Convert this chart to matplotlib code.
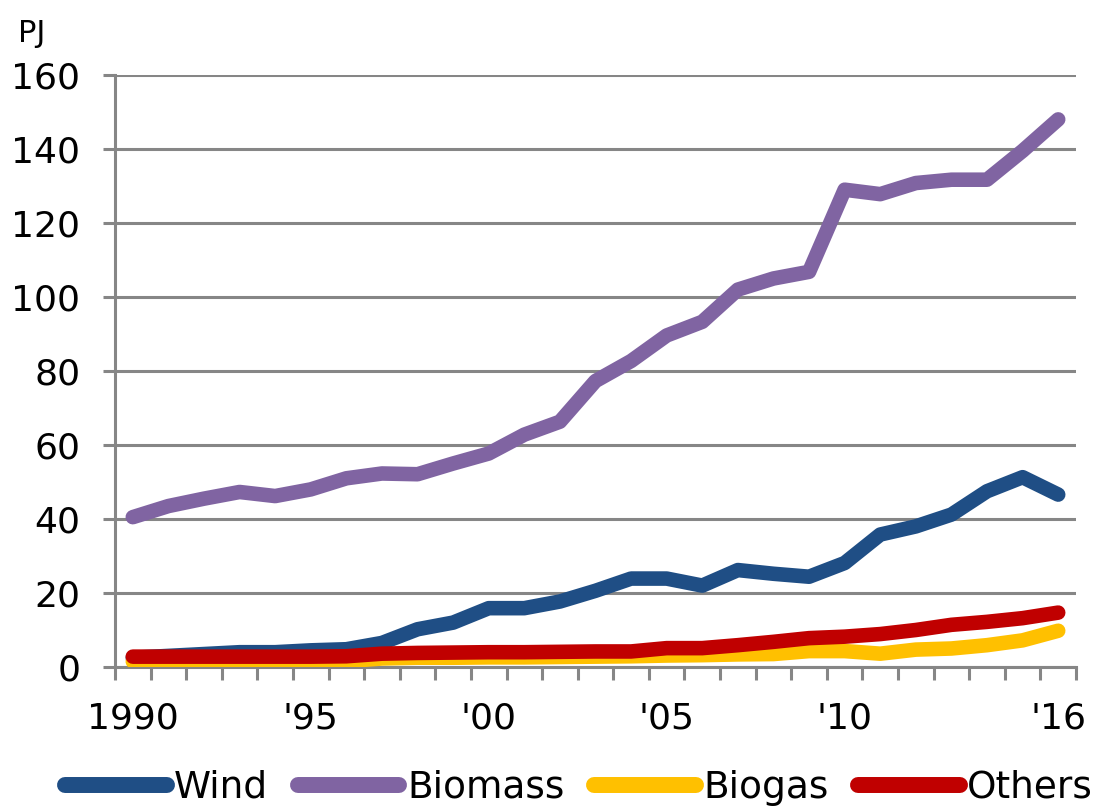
import matplotlib
matplotlib.use("Agg")
import matplotlib.pyplot as plt
import numpy as np

years = list(range(1990, 2017))
tick_labels = {1990: "1990", 1995: "'95", 2000: "'00", 2005: "'05", 2010: "'10", 2016: "'16"}

wind = [2.5, 3.0, 3.5, 4.0, 4.0, 4.5, 4.8, 6.5, 10.2, 12.0, 15.9, 15.9, 17.7, 20.6, 23.9,
        23.9, 22.0, 26.2, 25.2, 24.4, 28.1, 35.8, 38.0, 41.2, 47.5, 51.3, 46.6]
biomass = [40.5, 43.5, 45.5, 47.3, 46.2, 48.0, 51.0, 52.3, 52.1, 55.0, 57.7, 62.8, 66.3, 77.3,
           82.7, 89.6, 93.3, 102.0, 105.0, 106.8, 129.0, 127.8, 130.8, 131.7, 131.7, 139.5, 148.0]
biogas = [1.5, 1.5, 1.5, 1.5, 1.5, 1.5, 1.6, 2.3, 2.5, 2.5, 2.6, 2.6, 2.7, 2.8, 2.9,
          3.1, 3.2, 3.4, 3.5, 4.3, 4.3, 3.6, 4.7, 5.0, 5.9, 7.2, 9.8]
others = [2.8, 2.8, 2.8, 2.8, 2.8, 2.8, 2.9, 3.6, 3.8, 3.9, 4.0, 4.0, 4.1, 4.2, 4.2,
          5.1, 5.1, 5.9, 6.8, 7.8, 8.2, 8.9, 10.0, 11.4, 12.2, 13.2, 14.7]

series = [("Wind", wind, "#1F4E85", 2),
          ("Biomass", biomass, "#8064A2", 1),
          ("Biogas", biogas, "#FFC000", 3),
          ("Others", others, "#C00000", 4)]

grid_c = "#868686"
plt.rcParams["font.family"] = ["DejaVu Sans"]

fig = plt.figure(figsize=(10.97, 8.10), dpi=100)
ax = fig.add_axes([115/1097, 1-667/810, (1076-115)/1097, (667-75)/810])

x = np.arange(len(years))
for name, vals, col, z in series:
    ax.plot(x, vals, color=col, lw=10.5, solid_capstyle="round", solid_joinstyle="round",
            label=name, zorder=z + 2)

ax.set_xlim(-0.5, len(years) - 0.5)
ax.set_ylim(0, 160)
ax.set_yticks(np.arange(0, 161, 20))
ax.yaxis.grid(True, color=grid_c, lw=2.2)
ax.set_axisbelow(True)

pos = [years.index(y) for y in tick_labels]
ax.set_xticks(pos)
ax.set_xticklabels(list(tick_labels.values()))
ax.set_xticks(np.arange(-0.5, len(years)), minor=True)
ax.tick_params(axis="x", which="major", length=0, pad=25, labelsize=26)
ax.tick_params(axis="x", which="minor", length=9, width=2.2, color=grid_c, direction="out")
ax.tick_params(axis="y", which="major", length=9, width=2.2, color=grid_c, pad=16, labelsize=26)

for s in ["top", "right"]:
    ax.spines[s].set_visible(False)
for s in ["left", "bottom"]:
    ax.spines[s].set_color(grid_c)
    ax.spines[s].set_linewidth(2.2)
ax.spines["bottom"].set_zorder(2.5)

fig.text(18/1097, 1-33/810, "PJ", fontsize=22, va="center", ha="left")

leg = fig.legend(loc="center", bbox_to_anchor=(0.528, 1-788/810), ncol=4, frameon=False,
                 fontsize=27, handlelength=2.7, handletextpad=0.2,
                 columnspacing=0.8, borderpad=0, borderaxespad=0)
for h in leg.get_lines():
    h.set_linewidth(11.5)
    h.set_solid_capstyle("round")

fig.savefig("out.png", dpi=100)
